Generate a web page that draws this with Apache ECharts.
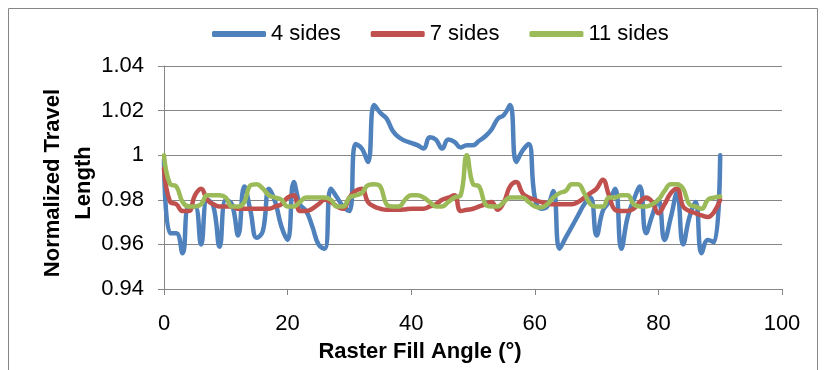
<!DOCTYPE html>
<html>
<head>
<meta charset="utf-8">
<script src="https://cdn.jsdelivr.net/npm/echarts@6/dist/echarts.min.js"></script>
<style>
  html, body {margin: 0; padding: 0; background: #fff;}
  #chart {width: 825px; height: 370px;}
</style>
</head>
<body>
<div id="chart"></div>
<script>
// raster fill angle, degrees
var angles = [0, 1, 2, 3, 4, 5, 6, 7, 8, 9, 10, 11, 12, 13, 14, 15, 16, 17, 18, 19,
  20, 21, 22, 23, 24, 25, 26, 27, 28, 29, 30, 31, 32, 33, 34, 35, 36, 37, 38, 39,
  40, 41, 42, 43, 44, 45, 46, 47, 48, 49, 50, 51, 52, 53, 54, 55, 56, 57, 58, 59,
  60, 61, 62, 63, 64, 65, 66, 67, 68, 69, 70, 71, 72, 73, 74, 75, 76, 77, 78, 79,
  80, 81, 82, 83, 84, 85, 86, 87, 88, 89, 90];

var sides4 = [0.998, 0.965, 0.965, 0.956, 0.977, 0.977, 0.960, 0.980, 0.977, 0.959,
  0.980, 0.978, 0.964, 0.986, 0.975, 0.963, 0.966, 0.985, 0.979, 0.968,
  0.962, 0.988, 0.978, 0.975, 0.968, 0.960, 0.958, 0.985, 0.981, 0.977,
  0.975, 1.005, 1.003, 0.997, 1.0225, 1.019, 1.0165, 1.011, 1.008, 1.0065,
  1.0055, 1.0045, 1.003, 1.008, 1.007, 1.003, 1.007, 1.006, 1.0035, 1.0045,
  1.0045, 1.0065, 1.0085, 1.0115, 1.0163, 1.018, 1.0225, 0.997, 1.002, 1.005,
  0.981, 0.976, 0.977, 0.984, 0.958, 0.963, 0.968, 0.973, 0.978, 0.981,
  0.964, 0.975, 0.979, 0.985, 0.958, 0.972, 0.980, 0.986, 0.965, 0.973,
  0.980, 0.962, 0.972, 0.983, 0.960, 0.972, 0.979, 0.956, 0.962, 0.961, 1.000];

var sides7 = [0.994, 0.979, 0.978, 0.975, 0.975, 0.982, 0.985, 0.980, 0.978, 0.977,
  0.977, 0.977, 0.976, 0.976, 0.976, 0.976, 0.976, 0.976, 0.977, 0.978,
  0.981, 0.982, 0.975, 0.975, 0.976, 0.978, 0.980, 0.979, 0.977, 0.976,
  0.981, 0.984, 0.985, 0.979, 0.977, 0.976, 0.9755, 0.9755, 0.9755, 0.9757,
  0.976, 0.976, 0.976, 0.977, 0.978, 0.980, 0.981, 0.982, 0.975, 0.9755,
  0.976, 0.977, 0.978, 0.979, 0.9755, 0.979, 0.986, 0.988, 0.983, 0.981,
  0.980, 0.979, 0.9785, 0.978, 0.978, 0.978, 0.978, 0.979, 0.981, 0.983,
  0.985, 0.989, 0.982, 0.9755, 0.975, 0.975, 0.976, 0.979, 0.981, 0.979,
  0.974, 0.978, 0.983, 0.985, 0.977, 0.975, 0.974, 0.973, 0.9723, 0.9745, 0.980];

var sides11 = [1.000, 0.987, 0.986, 0.979, 0.977, 0.977, 0.978, 0.982, 0.982, 0.982,
  0.981, 0.977, 0.977, 0.979, 0.9865, 0.987, 0.985, 0.982, 0.981, 0.980,
  0.977, 0.977, 0.979, 0.981, 0.981, 0.981, 0.981, 0.980, 0.977, 0.977,
  0.981, 0.982, 0.983, 0.9865, 0.987, 0.986, 0.978, 0.977, 0.977, 0.980,
  0.982, 0.982, 0.981, 0.979, 0.977, 0.977, 0.979, 0.981, 0.982, 1.000,
  0.987, 0.986, 0.978, 0.977, 0.977, 0.979, 0.981, 0.981, 0.981, 0.979,
  0.977, 0.9765, 0.978, 0.981, 0.983, 0.984, 0.987, 0.987, 0.983, 0.978,
  0.977, 0.977, 0.981, 0.981, 0.982, 0.982, 0.978, 0.977, 0.977, 0.978,
  0.980, 0.984, 0.987, 0.987, 0.985, 0.978, 0.977, 0.976, 0.980, 0.981, 0.9815];

var seriesNames = ['4 sides', '7 sides', '11 sides'];
var seriesColors = ['#4F81BD', '#C0504D', '#9BBB59'];
var xTicks = {min: 0, max: 100, interval: 20};
var yTicks = {min: 0.94, max: 1.04, interval: 0.02};

var font = 'Liberation Sans, Arial, sans-serif';
var gray = '#868686';

function pairs(ys) {
  return angles.map(function (a, i) { return [a, ys[i]]; });
}

var myChart = echarts.init(document.getElementById('chart'));
myChart.setOption({
  animation: false,
  textStyle: {fontFamily: font},
  grid: {left: 164, right: 43, top: 66, bottom: 81},
  legend: {
    top: 18,
    left: 207,
    icon: 'roundRect',
    itemWidth: 54,
    itemHeight: 6,
    itemGap: 30,
    textStyle: {fontSize: 22, color: '#000', fontFamily: font},
    data: seriesNames
  },
  xAxis: {
    type: 'value',
    min: xTicks.min, max: xTicks.max, interval: xTicks.interval,
    axisLine: {lineStyle: {color: gray, width: 1}},
    axisTick: {show: true, length: 6, lineStyle: {color: gray}},
    splitLine: {show: false},
    axisLabel: {color: '#000', fontSize: 22, margin: 24, fontFamily: font}
  },
  yAxis: {
    type: 'value',
    min: yTicks.min, max: yTicks.max, interval: yTicks.interval,
    axisLine: {show: true, lineStyle: {color: gray, width: 1}},
    axisTick: {show: true, length: 6, lineStyle: {color: gray}},
    splitLine: {show: true, lineStyle: {color: gray, width: 1}},
    axisLabel: {
      color: '#000', fontSize: 22, margin: 20, fontFamily: font,
      formatter: function (v) { return String(+v.toFixed(2)); }
    }
  },
  graphic: [
    {
      type: 'rect', silent: true,
      shape: {x: 8.5, y: 8.5, width: 809, height: 420},
      style: {fill: 'none', stroke: gray, lineWidth: 1}
    },
    {
      type: 'text', x: 420, y: 352,
      style: {
        text: 'Raster Fill Angle (°)', fill: '#000',
        font: 'bold 22px ' + font, align: 'center', verticalAlign: 'middle'
      }
    },
    {
      type: 'text', x: 68, y: 183, rotation: Math.PI / 2,
      style: {
        text: 'Normalized Travel\nLength', fill: '#000', lineHeight: 31,
        font: 'bold 22px ' + font, align: 'center', verticalAlign: 'middle'
      }
    }
  ],
  series: seriesNames.map(function (name, i) {
    return {
      name: name,
      type: 'line',
      data: pairs([sides4, sides7, sides11][i]),
      smooth: 0.45,
      symbol: 'none',
      color: seriesColors[i],
      lineStyle: {width: 4.5, color: seriesColors[i], cap: 'round', join: 'round'}
    };
  })
});
</script>
</body>
</html>
